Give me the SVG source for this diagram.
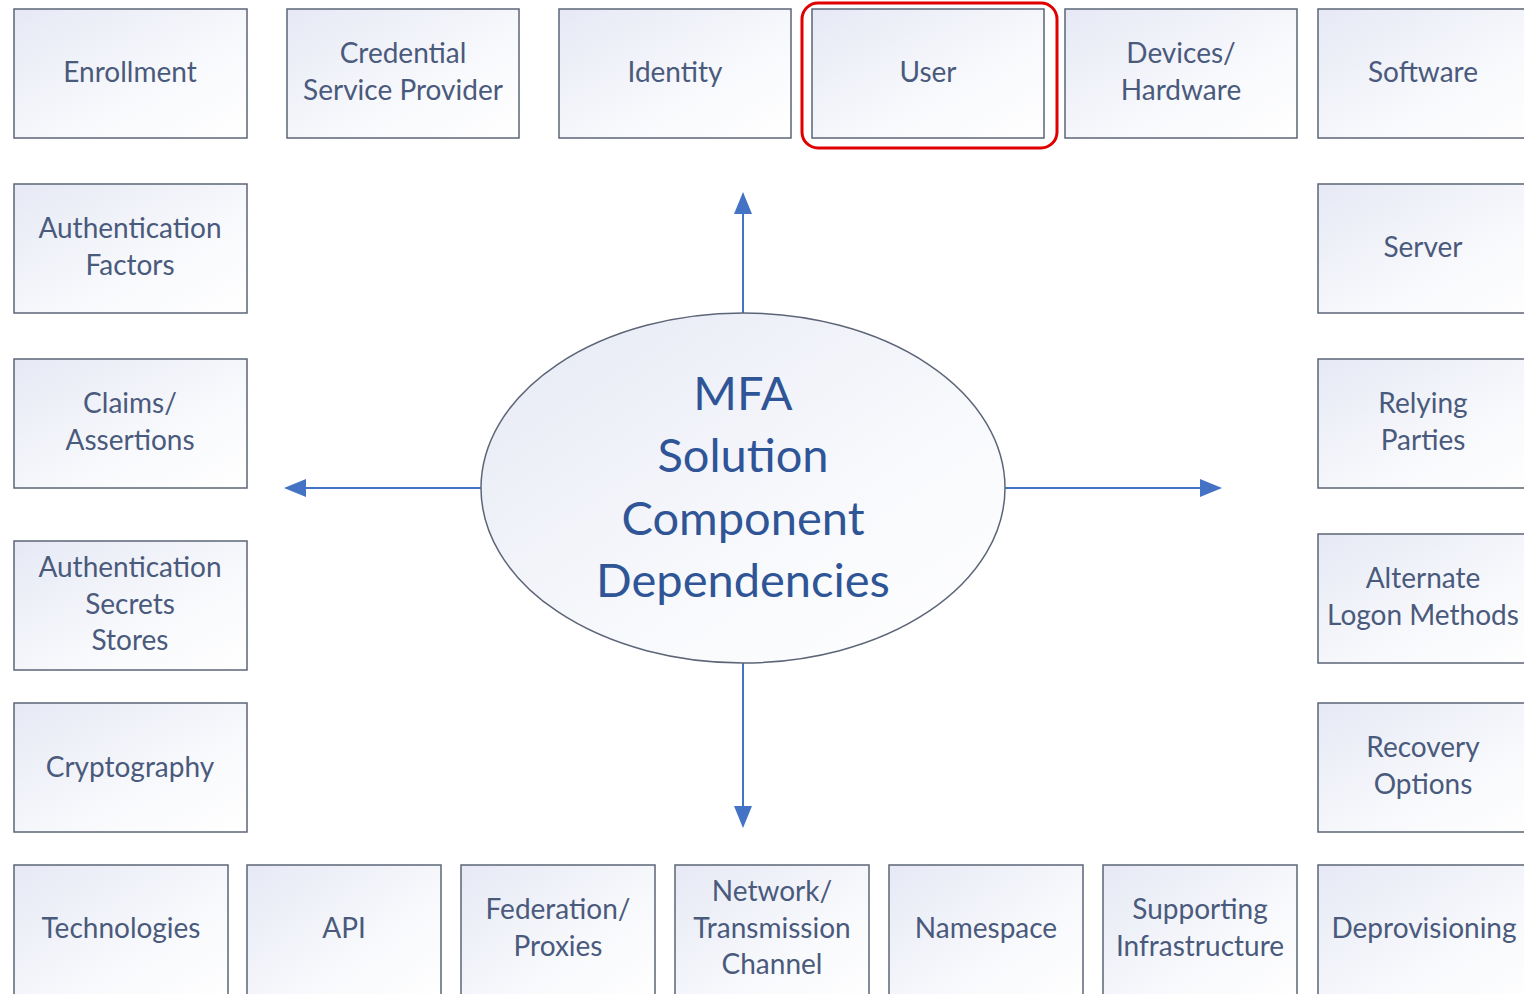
<svg xmlns="http://www.w3.org/2000/svg" width="1524" height="994" viewBox="0 0 1524 994">
<defs>
<linearGradient id="g" x1="0" y1="0" x2="1" y2="1">
<stop offset="0" stop-color="#e6e9f5"/>
<stop offset="0.6" stop-color="#f8f9fc"/>
<stop offset="1" stop-color="#ffffff"/>
</linearGradient>
<marker id="ah" markerWidth="11" markerHeight="9" refX="10" refY="4.5" orient="auto" markerUnits="strokeWidth">
<path d="M0,0 L11,4.5 L0,9 Z" fill="#4472c4"/>
</marker>
</defs>
<style>
.box{fill:url(#g);stroke:#5c6577;stroke-width:1.5}
.t{font-family:Lato,"Open Sans",sans-serif;font-size:28px;fill:#4a5a7c;text-anchor:middle}
.c{font-family:Lato,"Open Sans",sans-serif;font-size:47px;fill:#2f5597;text-anchor:middle}
.ar{stroke:#4472c4;stroke-width:2;fill:none;marker-end:url(#ah)}
</style>
<rect width="1524" height="994" fill="#ffffff"/>
<g id="connectors">
<line class="ar" x1="743" y1="313" x2="743" y2="194"/>
<line class="ar" x1="743" y1="663" x2="743" y2="826"/>
<line class="ar" x1="481" y1="488" x2="286" y2="488"/>
<line class="ar" x1="1005" y1="488" x2="1220" y2="488"/>
</g>
<g id="center">
<ellipse cx="743" cy="488" rx="262" ry="175" fill="url(#g)" stroke="#5c6577" stroke-width="1.5"/>
<text class="c" x="743" y="410">MFA</text>
<text class="c" x="743" y="472">Solution</text>
<text class="c" x="743" y="535">Component</text>
<text class="c" x="743" y="597">Dependencies</text>
</g>
<g id="n-enrollment"><rect class="box" x="14" y="9" width="233" height="129"/><text class="t" x="130" y="82">Enrollment</text></g>
<g id="n-csp"><rect class="box" x="287" y="9" width="232" height="129"/><text class="t" x="403" y="63">Credential</text><text class="t" x="403" y="100">Service Provider</text></g>
<g id="n-identity"><rect class="box" x="559" y="9" width="232" height="129"/><text class="t" x="675" y="82">Identity</text></g>
<g id="n-user"><rect class="box" x="812" y="9" width="232" height="129"/><text class="t" x="928" y="82">User</text><rect x="802" y="3" width="255" height="145" rx="16" fill="none" stroke="#e00000" stroke-width="3"/></g>
<g id="n-devices"><rect class="box" x="1065" y="9" width="232" height="129"/><text class="t" x="1181" y="63">Devices/</text><text class="t" x="1181" y="100">Hardware</text></g>
<g id="n-software"><rect class="box" x="1318" y="9" width="232" height="129"/><text class="t" x="1423" y="82">Software</text></g>
<g id="n-authfactors"><rect class="box" x="14" y="184" width="233" height="129"/><text class="t" x="130" y="238">Authentication</text><text class="t" x="130" y="275">Factors</text></g>
<g id="n-claims"><rect class="box" x="14" y="359" width="233" height="129"/><text class="t" x="130" y="413">Claims/</text><text class="t" x="130" y="450">Assertions</text></g>
<g id="n-secrets"><rect class="box" x="14" y="541" width="233" height="129"/><text class="t" x="130" y="577">Authentication</text><text class="t" x="130" y="614">Secrets</text><text class="t" x="130" y="650">Stores</text></g>
<g id="n-crypto"><rect class="box" x="14" y="703" width="233" height="129"/><text class="t" x="130" y="777">Cryptography</text></g>
<g id="n-server"><rect class="box" x="1318" y="184" width="232" height="129"/><text class="t" x="1423" y="257">Server</text></g>
<g id="n-relying"><rect class="box" x="1318" y="359" width="232" height="129"/><text class="t" x="1423" y="413">Relying</text><text class="t" x="1423" y="450">Parties</text></g>
<g id="n-alternate"><rect class="box" x="1318" y="534" width="232" height="129"/><text class="t" x="1423" y="588">Alternate</text><text class="t" x="1423" y="625">Logon Methods</text></g>
<g id="n-recovery"><rect class="box" x="1318" y="703" width="232" height="129"/><text class="t" x="1423" y="757">Recovery</text><text class="t" x="1423" y="794">Options</text></g>
<g id="n-technologies"><rect class="box" x="14" y="865" width="214" height="140"/><text class="t" x="121" y="938">Technologies</text></g>
<g id="n-api"><rect class="box" x="247" y="865" width="194" height="140"/><text class="t" x="344" y="938">API</text></g>
<g id="n-federation"><rect class="box" x="461" y="865" width="194" height="140"/><text class="t" x="558" y="919">Federation/</text><text class="t" x="558" y="956">Proxies</text></g>
<g id="n-network"><rect class="box" x="675" y="865" width="194" height="140"/><text class="t" x="772" y="901">Network/</text><text class="t" x="772" y="938">Transmission</text><text class="t" x="772" y="974">Channel</text></g>
<g id="n-namespace"><rect class="box" x="889" y="865" width="194" height="140"/><text class="t" x="986" y="938">Namespace</text></g>
<g id="n-supporting"><rect class="box" x="1103" y="865" width="194" height="140"/><text class="t" x="1200" y="919">Supporting</text><text class="t" x="1200" y="956">Infrastructure</text></g>
<g id="n-deprovisioning"><rect class="box" x="1318" y="865" width="232" height="140"/><text class="t" x="1424" y="938">Deprovisioning</text></g>
</svg>
